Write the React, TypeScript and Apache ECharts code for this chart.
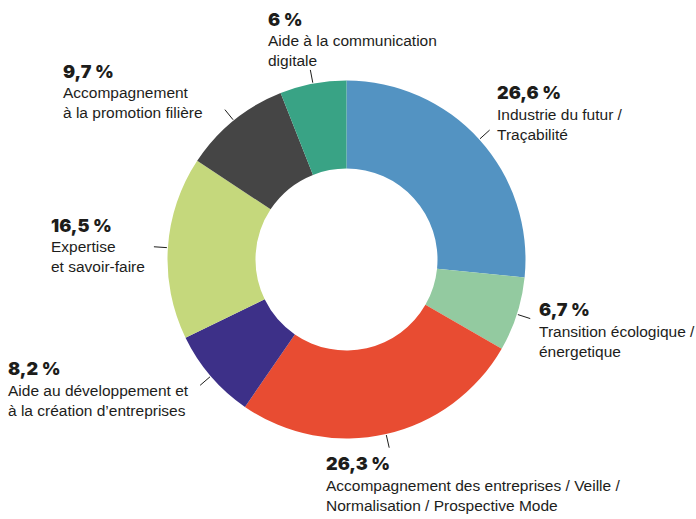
import React, { useEffect, useRef } from "react";
import * as echarts from "echarts";

const values = [26.6, 6.7, 26.3, 8.2, 16.5, 9.7, 6];
const categoryLines = [
  ["Industrie du futur /", "Traçabilité"],
  ["Transition écologique /", "énergetique"],
  ["Accompagnement des entreprises / Veille /", "Normalisation / Prospective Mode"],
  ["Aide au développement et", "à la création d’entreprises"],
  ["Expertise", "et savoir-faire"],
  ["Accompagnement", "à la promotion filière"],
  ["Aide à la communication", "digitale"],
];
const colors = ["#5393C2", "#93CAA0", "#E84C32", "#3D3088", "#C5D87C", "#454545", "#39A385"];
// label block top-left positions (layout)
const labelPos = [
  [497, 81],
  [539, 298],
  [326, 452],
  [8, 357],
  [51, 213.5],
  [63, 59.5],
  [268, 7.5],
];

const CX = 346.5;
const CY = 259.5;
const R_OUT = 179;
const R_IN = 91;

export default function App() {
  const ref = useRef<HTMLDivElement>(null);
  useEffect(() => {
    if (!ref.current) return;
    const chart = echarts.init(ref.current, null, { renderer: "svg" });
    const total = values.reduce((a, b) => a + b, 0);
    let cum = 0;
    const ticks = values.map((v) => {
      const mid = ((cum + v / 2) / total) * Math.PI * 2;
      cum += v;
      const s = Math.sin(mid);
      const c = Math.cos(mid);
      return {
        type: "line",
        shape: {
          x1: CX + s * (R_OUT + 1),
          y1: CY - c * (R_OUT + 1),
          x2: CX + s * (R_OUT + 14),
          y2: CY - c * (R_OUT + 14),
        },
        style: { stroke: "#1d1d1b", lineWidth: 1 },
        silent: true,
      };
    });
    const data = values.map((v, i) => ({
      value: v,
      name: categoryLines[i].join(" "),
      itemStyle: { color: colors[i] },
      label: {
        formatter:
          "{p|" + String(v).replace(".", ",") + " %}\n" +
          categoryLines[i].map((l) => "{t|" + l + "}").join("\n"),
      },
    }));
    chart.setOption({
      animation: false,
      backgroundColor: "#ffffff",
      series: [
        {
          type: "pie",
          center: [CX, CY],
          radius: [R_IN, R_OUT],
          startAngle: 90,
          clockwise: true,
          avoidLabelOverlap: false,
          itemStyle: { borderWidth: 0 },
          emphasis: { disabled: true },
          label: {
            show: true,
            position: "outside",
            rich: {
              p: {
                fontFamily: "Inter, 'Liberation Sans', sans-serif",
                fontWeight: 900,
                fontSize: 18,
                lineHeight: 23,
                color: "#1d1d1b",
              },
              t: {
                fontFamily: "'Liberation Sans', Arial, sans-serif",
                fontSize: 15.5,
                lineHeight: 20,
                color: "#1d1d1b",
              },
            },
          },
          labelLine: { show: false },
          labelLayout: (params: any) => ({
            x: labelPos[params.dataIndex][0],
            y: labelPos[params.dataIndex][1],
            align: "left",
            verticalAlign: "top",
          }),
          data,
        },
      ],
      graphic: ticks,
    });
    return () => chart.dispose();
  }, []);
  return (
    <div
      ref={ref}
      style={{ position: "absolute", left: 0, top: 0, width: 696, height: 519, background: "#fff" }}
    />
  );
}
